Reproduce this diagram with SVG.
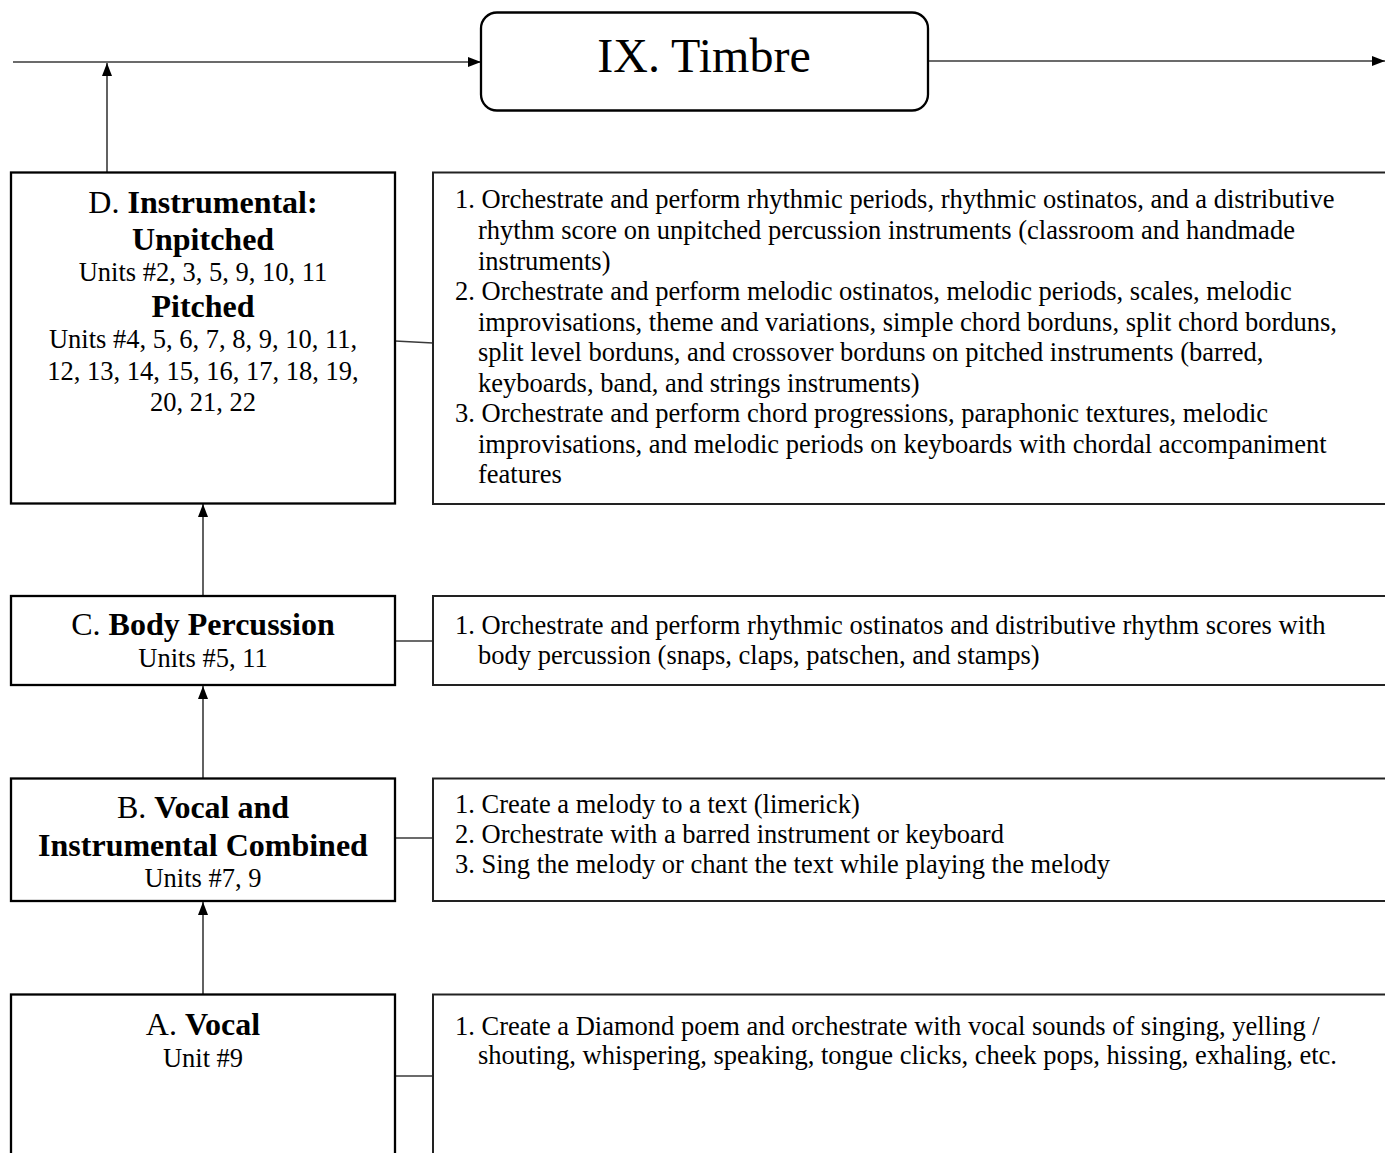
<svg xmlns="http://www.w3.org/2000/svg" width="1385" height="1153" viewBox="0 0 1385 1153">
<defs>
<style>
text{font-family:"Liberation Serif","Times New Roman",serif;fill:#000}
.t{font-size:32px;text-anchor:middle}
.b{font-weight:bold}
.u{font-size:26.5px;text-anchor:middle}
.r{font-size:26.5px}
.box{fill:#fff;stroke:#000;stroke-width:2.3}
.rbox{fill:#fff;stroke:#222;stroke-width:2}
.c{fill:none;stroke:#3a3a3a;stroke-width:1.6}
</style>
<marker id="ah" viewBox="0 0 13 10" refX="13" refY="5" markerWidth="13" markerHeight="10" markerUnits="userSpaceOnUse" orient="auto">
<path d="M0,0 L13,5 L0,10 Z" fill="#000"/>
</marker>
</defs>
<rect width="1385" height="1153" fill="#fff"/>

<g id="connectors">
<line class="c" x1="13" y1="62" x2="481" y2="62" marker-end="url(#ah)"/>
<line class="c" x1="928" y1="61" x2="1385" y2="61" marker-end="url(#ah)"/>
<line class="c" x1="107" y1="172" x2="107" y2="63" marker-end="url(#ah)"/>
<line class="c" x1="203" y1="596" x2="203" y2="504" marker-end="url(#ah)"/>
<line class="c" x1="203" y1="778" x2="203" y2="686" marker-end="url(#ah)"/>
<line class="c" x1="203" y1="994" x2="203" y2="902" marker-end="url(#ah)"/>
<line class="c" x1="395" y1="341" x2="433" y2="343"/>
<line class="c" x1="395" y1="641" x2="433" y2="641"/>
<line class="c" x1="395" y1="838" x2="433" y2="838"/>
<line class="c" x1="395" y1="1076" x2="433" y2="1076"/>
</g>

<g id="timbre">
<rect class="box" x="481" y="12.5" width="447" height="98" rx="16" ry="16"/>
<text x="704" y="72" style="font-size:48px;text-anchor:middle">IX. Timbre</text>
</g>

<g id="nodeD">
<rect class="box" x="11" y="172.5" width="384" height="331"/>
<text class="t" x="203" y="213">D. <tspan class="b">Instrumental:</tspan></text>
<text class="t b" x="203" y="250">Unpitched</text>
<text class="u" x="203" y="281">Units #2, 3, 5, 9, 10, 11</text>
<text class="t b" x="203" y="317">Pitched</text>
<text class="u" x="203" y="348">Units #4, 5, 6, 7, 8, 9, 10, 11,</text>
<text class="u" x="203" y="380">12, 13, 14, 15, 16, 17, 18, 19,</text>
<text class="u" x="203" y="411">20, 21, 22</text>
</g>

<g id="descD">
<rect class="rbox" x="433" y="172.5" width="1000" height="331.5"/>
<text class="r" x="455" y="208">1. Orchestrate and perform rhythmic periods, rhythmic ostinatos, and a distributive</text>
<text class="r" x="478" y="239">rhythm score on unpitched percussion instruments (classroom and handmade</text>
<text class="r" x="478" y="270">instruments)</text>
<text class="r" x="455" y="300">2. Orchestrate and perform melodic ostinatos, melodic periods, scales, melodic</text>
<text class="r" x="478" y="331">improvisations, theme and variations, simple chord borduns, split chord borduns,</text>
<text class="r" x="478" y="361">split level borduns, and crossover borduns on pitched instruments (barred,</text>
<text class="r" x="478" y="392">keyboards, band, and strings instruments)</text>
<text class="r" x="455" y="422">3. Orchestrate and perform chord progressions, paraphonic textures, melodic</text>
<text class="r" x="478" y="453">improvisations, and melodic periods on keyboards with chordal accompaniment</text>
<text class="r" x="478" y="483">features</text>
</g>

<g id="nodeC">
<rect class="box" x="11" y="596" width="384" height="89"/>
<text class="t" x="203" y="635">C. <tspan class="b">Body Percussion</tspan></text>
<text class="u" x="203" y="667">Units #5, 11</text>
</g>

<g id="descC">
<rect class="rbox" x="433" y="596" width="1000" height="89"/>
<text class="r" x="455" y="634">1. Orchestrate and perform rhythmic ostinatos and distributive rhythm scores with</text>
<text class="r" x="478" y="664">body percussion (snaps, claps, patschen, and stamps)</text>
</g>

<g id="nodeB">
<rect class="box" x="11" y="778.5" width="384" height="122.5"/>
<text class="t" x="203" y="818">B. <tspan class="b">Vocal and</tspan></text>
<text class="t b" x="203" y="856">Instrumental Combined</text>
<text class="u" x="203" y="887">Units #7, 9</text>
</g>

<g id="descB">
<rect class="rbox" x="433" y="778.5" width="1000" height="122.5"/>
<text class="r" x="455" y="813">1. Create a melody to a text (limerick)</text>
<text class="r" x="455" y="843">2. Orchestrate with a barred instrument or keyboard</text>
<text class="r" x="455" y="873">3. Sing the melody or chant the text while playing the melody</text>
</g>

<g id="nodeA">
<rect class="box" x="11" y="994.5" width="384" height="200"/>
<text class="t" x="203" y="1035">A. <tspan class="b">Vocal</tspan></text>
<text class="u" x="203" y="1067">Unit #9</text>
</g>

<g id="descA">
<rect class="rbox" x="433" y="994.5" width="1000" height="200"/>
<text class="r" x="455" y="1035">1. Create a Diamond poem and orchestrate with vocal sounds of singing, yelling /</text>
<text class="r" x="478" y="1064">shouting, whispering, speaking, tongue clicks, cheek pops, hissing, exhaling, etc.</text>
</g>
</svg>
